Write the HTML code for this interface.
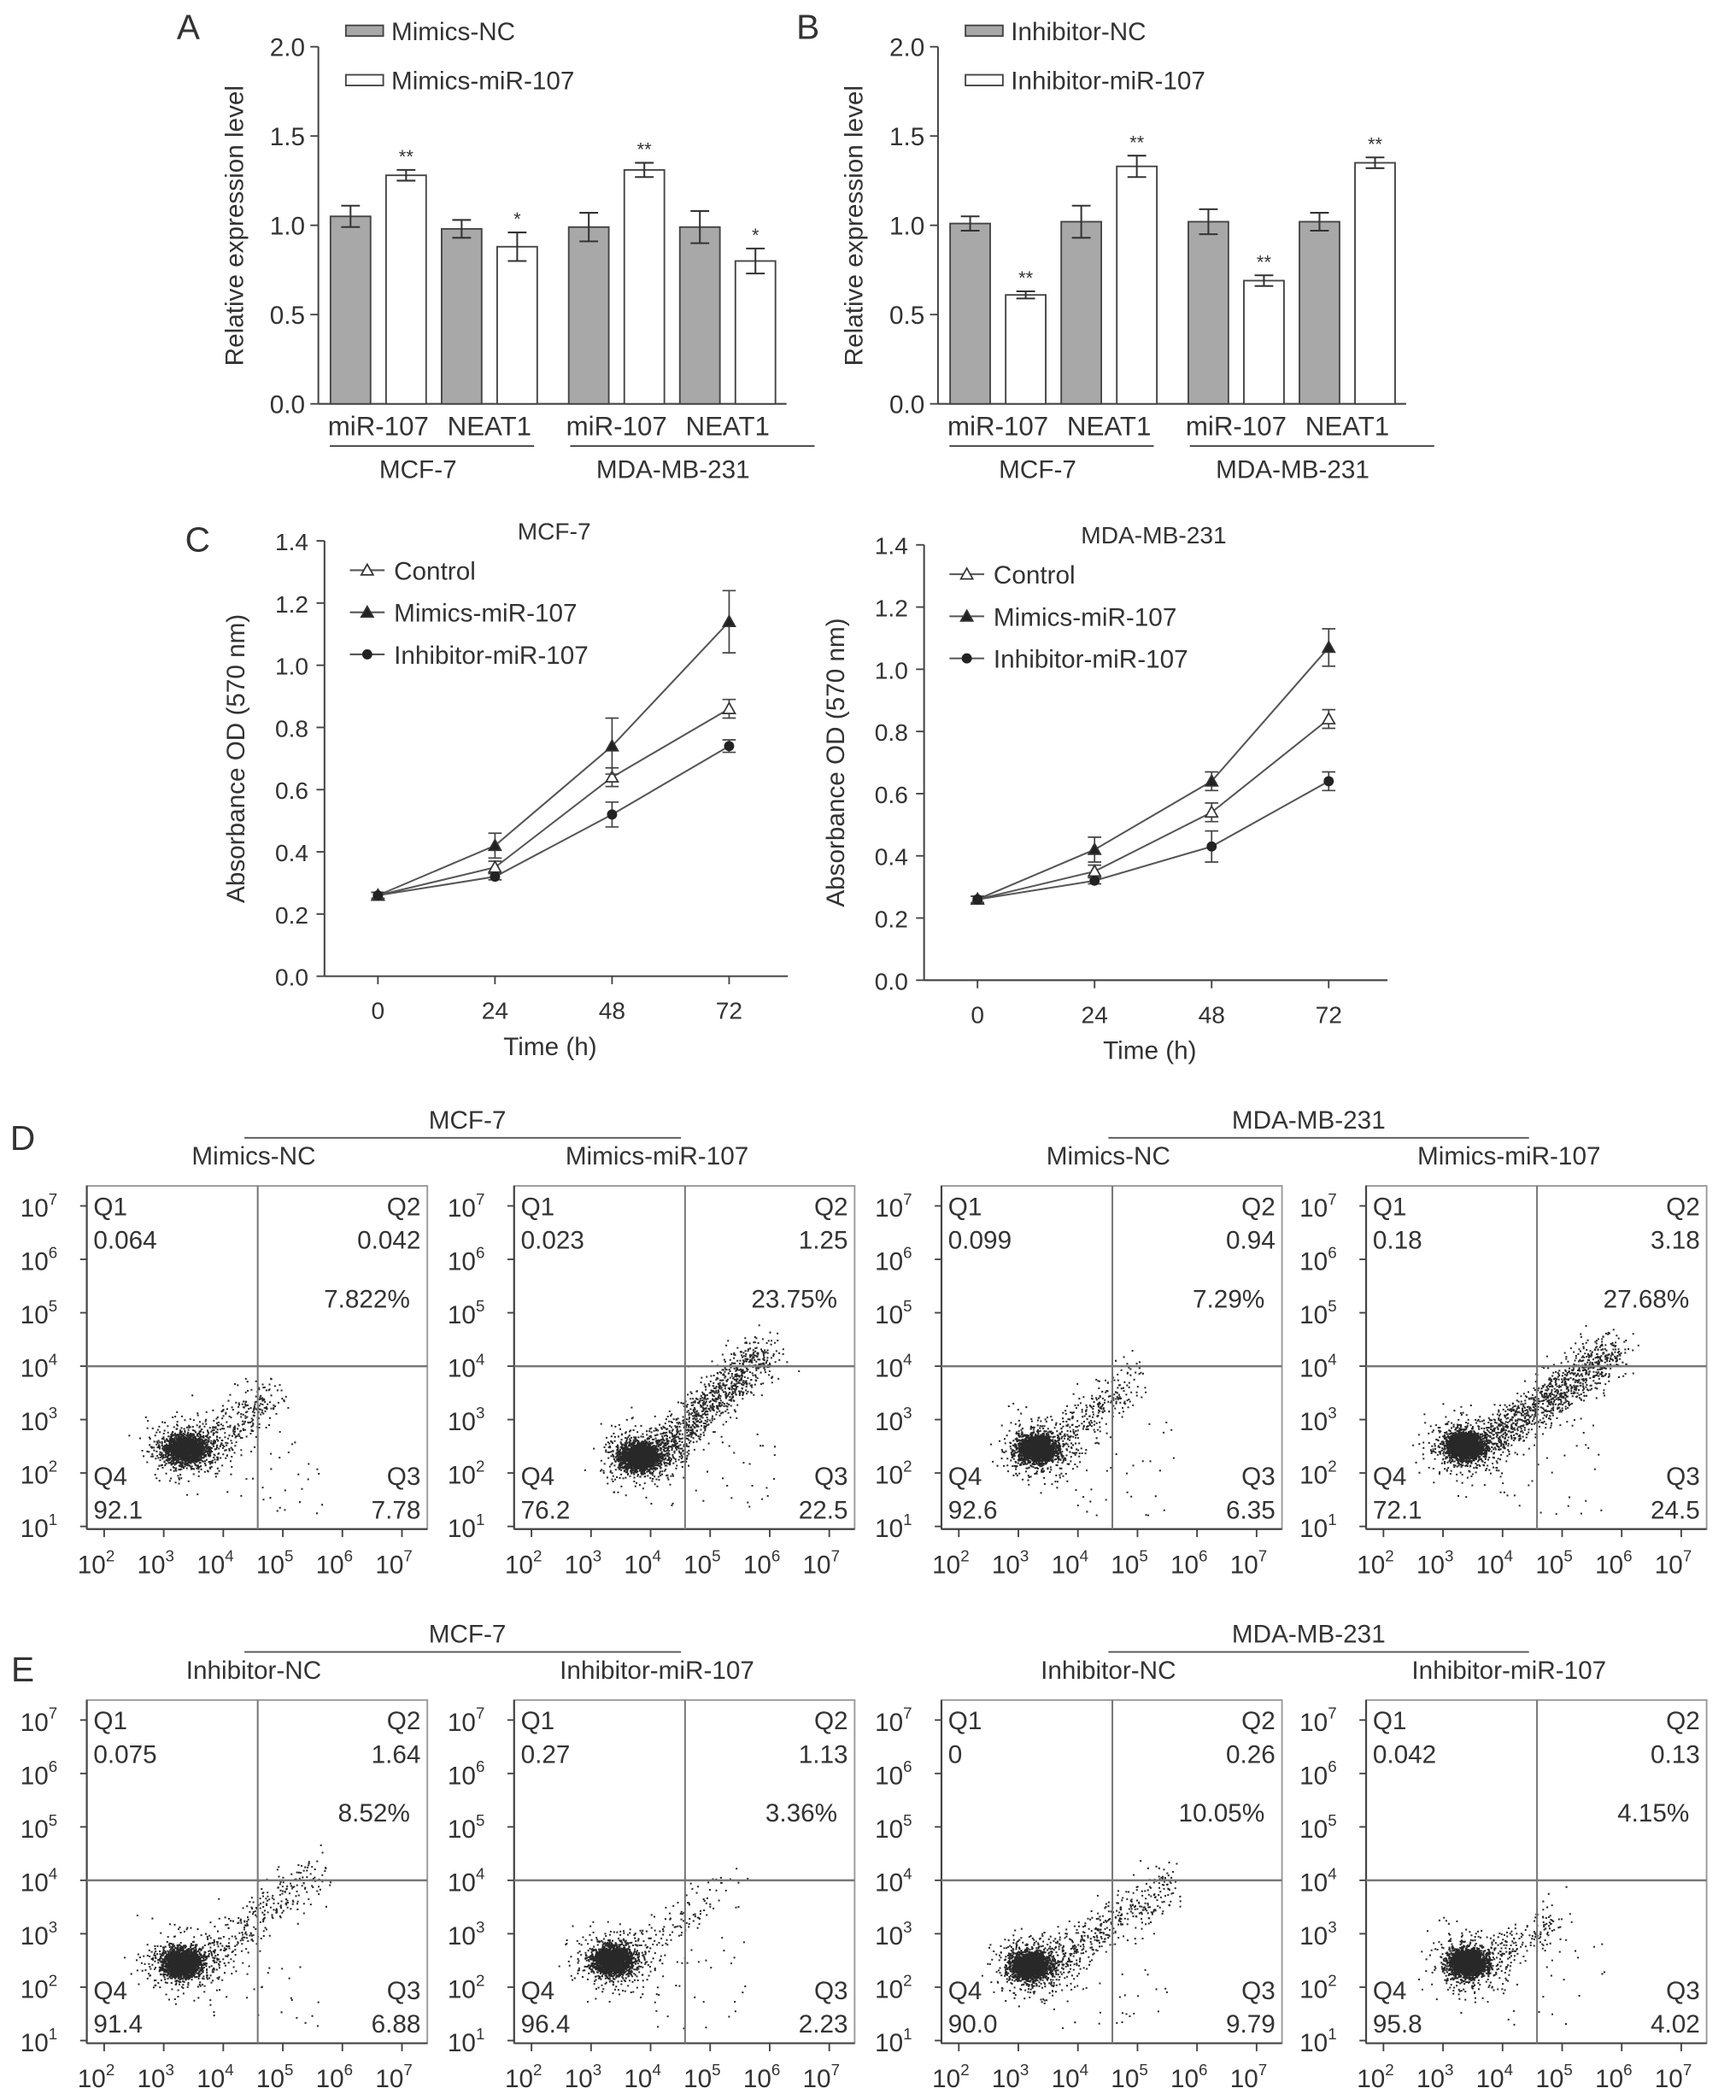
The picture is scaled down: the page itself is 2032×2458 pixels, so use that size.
<!DOCTYPE html>
<html><head><meta charset="utf-8"><style>
html,body{margin:0;padding:0;background:#fff}
svg{display:block}
text{font-family:"Liberation Sans",sans-serif;fill:#333}
</style></head><body>
<svg id="fig" xmlns="http://www.w3.org/2000/svg" width="2032" height="2458" viewBox="0 0 1300 1572.5" preserveAspectRatio="none">
<rect width="1300" height="1572.5" fill="#fff"/>
<g font-size="17">
<text x="141" y="29" font-size="26" text-anchor="middle">A</text>
<text x="605" y="29" font-size="26" text-anchor="middle">B</text>
<text x="148" y="413" font-size="26" text-anchor="middle">C</text>
<text x="17" y="861" font-size="26" text-anchor="middle">D</text>
<text x="17" y="1259" font-size="26" text-anchor="middle">E</text>
</g>
<g id="root"></g>
</svg>
<script>
// ---- Panel A / B data ----
const barCats = ['miR-107','NEAT1','miR-107','NEAT1'];
const aCtrl = [1.05,0.98,0.99,0.99];
const aCtrlErr = [0.06,0.05,0.08,0.09];
const aTreat = [1.28,0.88,1.31,0.80];
const aTreatErr = [0.03,0.08,0.04,0.07];
const aStars = ['**','*','**','*'];
const bCtrl = [1.01,1.02,1.02,1.02];
const bCtrlErr = [0.04,0.09,0.07,0.05];
const bTreat = [0.61,1.33,0.69,1.35];
const bTreatErr = [0.02,0.06,0.03,0.03];
const bStars = ['**','**','**','**'];
const barTicks = [0,0.5,1.0,1.5,2.0];
// ---- Panel C data ----
const timeCats = [0,24,48,72];
const lineTicks = [0,0.2,0.4,0.6,0.8,1.0,1.2,1.4];
const mcfCtrl = [0.26,0.35,0.64,0.86];
const mcfCtrlErr = [0.01,0.02,0.03,0.03];
const mcfMim = [0.26,0.42,0.74,1.14];
const mcfMimErr = [0.01,0.04,0.09,0.10];
const mcfInh = [0.26,0.32,0.52,0.74];
const mcfInhErr = [0.01,0.01,0.04,0.02];
const mdaCtrl = [0.26,0.35,0.54,0.84];
const mdaCtrlErr = [0.01,0.02,0.03,0.03];
const mdaMim = [0.26,0.42,0.64,1.07];
const mdaMimErr = [0.01,0.04,0.03,0.06];
const mdaInh = [0.26,0.32,0.43,0.64];
const mdaInhErr = [0.01,0.01,0.05,0.03];
// ---- Flow data (quadrant percentages) ----
const flowQ1 = ['0.064','0.023','0.099','0.18','0.075','0.27','0','0.042'];
const flowQ2 = ['0.042','1.25','0.94','3.18','1.64','1.13','0.26','0.13'];
const flowQ3 = ['7.78','22.5','6.35','24.5','6.88','2.23','9.79','4.02'];
const flowQ4 = ['92.1','76.2','92.6','72.1','91.4','96.4','90.0','95.8'];
const flowPct = ['7.822%','23.75%','7.29%','27.68%','8.52%','3.36%','10.05%','4.15%'];
const flowTitles = ['Mimics-NC','Mimics-miR-107','Mimics-NC','Mimics-miR-107','Inhibitor-NC','Inhibitor-miR-107','Inhibitor-NC','Inhibitor-miR-107'];
// cluster (log10) centres and tail strength per plot
const blobX = [3.35,3.8,3.3,3.35,3.3,3.35,3.2,3.4];
const blobY = [2.45,2.3,2.45,2.5,2.45,2.5,2.4,2.45];
const tailN = [300,1000,280,1100,300,130,420,150];
const tailEndX = [4.8,5.9,4.9,5.9,5.6,5.3,5.5,4.9];
const tailEndY = [3.5,4.3,3.8,4.3,4.2,4.0,3.9,3.3];

const NS='http://www.w3.org/2000/svg';
const root=document.getElementById('root');
function mk(tag,at,parent){const e=document.createElementNS(NS,tag);for(const k in at)e.setAttribute(k,at[k]);(parent||root).appendChild(e);return e;}
function tx(x,y,s,size,anchor,parent){const e=mk('text',{x:x,y:y,'font-size':size||17,'text-anchor':anchor||'start'},parent);e.textContent=s;return e;}

// ---------- bar panels ----------
function barPanel(dx,ctrl,cErr,treat,tErr,stars,legend1,legend2,pfx){
  const y0=302.4,y2=35;
  const ys=v=>y0-(v/2)*(y0-y2);
  const ax=238.4+dx;
  let e;
  e=mk('line',{x1:ax,y1:y2,x2:ax,y2:y0,stroke:'#444','stroke-width':1.3});
  
  e=mk('line',{x1:ax,y1:y0,x2:589+dx,y2:y0,stroke:'#444','stroke-width':1.3});
  
  barTicks.forEach(t=>{
    mk('line',{x1:ax-6,y1:ys(t),x2:ax,y2:ys(t),stroke:'#444','stroke-width':1.2});
    e=tx(ax-10,ys(t)+7,t.toFixed(1),19,'end');
    
  });
  e=tx(0,0,'Relative expression level',19,'middle');
  e.setAttribute('transform','translate('+(182+dx)+',169) rotate(-90)');
  
  const xb=i=>247.5+dx+i*41.6+(i>=4?12:0);
  const bw=30;
  for(let c=0;c<4;c++){
    [[ctrl[c],cErr[c],'#a8a8a8',2*c],[treat[c],tErr[c],'#fff',2*c+1]].forEach((b,k)=>{
      const x=xb(b[3]);
      e=mk('rect',{x:x,y:ys(b[0]),width:bw,height:y0-ys(b[0]),fill:b[2],stroke:'#444','stroke-width':1.2});
      
      const cx=x+bw/2;
      e=mk('path',{d:'M'+cx+','+ys(b[0]+b[1])+'V'+ys(b[0]-b[1])+'M'+(cx-7)+','+ys(b[0]+b[1])+'h14M'+(cx-7)+','+ys(b[0]-b[1])+'h14',stroke:'#333','stroke-width':1.3,fill:'none'});
      
      if(k===1){e=tx(cx,ys(b[0]+b[1])-5,stars[c],14,'middle');
        }
    });
    e=tx((xb(2*c)+xb(2*c+1)+bw)/2,326,barCats[c],20,'middle');
    
  }
  e=mk('line',{x1:247+dx,y1:334,x2:400+dx,y2:334,stroke:'#444','stroke-width':1.2});
  
  e=mk('line',{x1:427+dx,y1:334,x2:610+dx,y2:334,stroke:'#444','stroke-width':1.2});
  
  e=tx(313+dx,358,'MCF-7',19,'middle');
  e=tx(504+dx,358,'MDA-MB-231',19,'middle');
  e=mk('rect',{x:259+dx,y:19,width:28,height:8,fill:'#a8a8a8',stroke:'#444','stroke-width':1.2});
  
  e=tx(293+dx,30,legend1,19);
  e=mk('rect',{x:259+dx,y:56,width:28,height:8,fill:'#fff',stroke:'#444','stroke-width':1.2});
  
  e=tx(293+dx,67,legend2,19);
}
barPanel(0,aCtrl,aCtrlErr,aTreat,aTreatErr,aStars,'Mimics-NC','Mimics-miR-107','panel-a');
barPanel(464,bCtrl,bCtrlErr,bTreat,bTreatErr,bStars,'Inhibitor-NC','Inhibitor-miR-107','panel-b');

// ---------- line panels ----------
function marker(type,x,y,pfx){
  let e;
  if(type==='circle') e=mk('circle',{cx:x,cy:y,r:3.8,fill:'#222'});
  else e=mk('path',{d:'M'+x+','+(y-4.5)+'L'+(x+4.5)+','+(y+3.5)+'L'+(x-4.5)+','+(y+3.5)+'Z',fill:type==='open'?'#fff':'#222',stroke:'#333','stroke-width':1.1});
  
}
function linePanel(dx,dy,title,series,pfx){
  const y0=731+dy,y1=405+dy,ax=243+dx;
  const ys=v=>y0-(v/1.4)*(y0-y1);
  const xs=t=>283+dx+t/72*263;
  let e;
  e=mk('line',{x1:ax,y1:y1,x2:ax,y2:y0,stroke:'#444','stroke-width':1.3});
  e=mk('line',{x1:ax,y1:y0,x2:590+dx,y2:y0,stroke:'#444','stroke-width':1.3});
  lineTicks.forEach(t=>{mk('line',{x1:ax-6,y1:ys(t),x2:ax,y2:ys(t),stroke:'#444','stroke-width':1.2});
    e=tx(ax-12,ys(t)+7,t.toFixed(1),18,'end');});
  timeCats.forEach(t=>{mk('line',{x1:xs(t),y1:y0,x2:xs(t),y2:y0+6,stroke:'#444','stroke-width':1.2});
    e=tx(xs(t),y0+32,String(t),18,'middle');});
  e=tx(412+dx,y0+59,'Time (h)',19,'middle');
  e=tx(0,0,'Absorbance OD (570 nm)',19,'middle');e.setAttribute('transform','translate('+(183+dx)+','+(568+dy)+') rotate(-90)');
  
  e=tx(415+dx,404+dy,title,18,'middle');
  series.forEach((s,k)=>{
    const [vals,errs,type,label]=s;
    e=mk('polyline',{points:vals.map((v,i)=>xs(timeCats[i])+','+ys(v)).join(' '),fill:'none',stroke:'#555','stroke-width':1.3});
    
    vals.forEach((v,i)=>{const x=xs(timeCats[i]);
      e=mk('path',{d:'M'+x+','+ys(v+errs[i])+'V'+ys(v-errs[i])+'M'+(x-5)+','+ys(v+errs[i])+'h10M'+(x-5)+','+ys(v-errs[i])+'h10',stroke:'#444','stroke-width':1.1,fill:'none'});
      
      marker(type,x,ys(v),pfx);});
    const ly=427+dy+k*31.5;
    e=mk('line',{x1:262+dx,y1:ly,x2:288+dx,y2:ly,stroke:'#555','stroke-width':1.3});
    marker(type,275+dx,ly,pfx);
    e=tx(295+dx,ly+7,label,19);
  });
}
linePanel(0,0,'MCF-7',[[mcfCtrl,mcfCtrlErr,'open','Control'],[mcfMim,mcfMimErr,'tri','Mimics-miR-107'],[mcfInh,mcfInhErr,'circle','Inhibitor-miR-107']],'panel-c-mcf7');
linePanel(449,3,'MDA-MB-231',[[mdaCtrl,mdaCtrlErr,'open','Control'],[mdaMim,mdaMimErr,'tri','Mimics-miR-107'],[mdaInh,mdaInhErr,'circle','Inhibitor-miR-107']],'panel-c-mda');

// ---------- flow panels ----------
let seed=12345;
function rnd(){seed=(seed*1103515245+12345)%2147483648;return seed/2147483648;}
function gauss(){let u=rnd()||1e-6,v=rnd();return Math.sqrt(-2*Math.log(u))*Math.cos(2*Math.PI*v);}
const boxX=[65,385,705,1023];
function flowPlot(idx,bx,by){
  const pfx='flow-plot-'+(idx+1);
  const w=255,h=257;
  const xs=l=>bx+13+(l-2)*44.6;
  const ys=l=>by+255-(l-1)*40;
  let e;
  const g=mk('g',{});
  
  let d='';
  const pt=(lx,ly)=>{const x=xs(lx),y=ys(ly);if(x>bx+1&&x<bx+w-1&&y>by+1&&y<by+h-1)d+='M'+x.toFixed(1)+','+y.toFixed(1)+'h1.3';};
  for(let i=0;i<2200;i++){pt(blobX[idx]+gauss()*0.15,blobY[idx]+gauss()*0.12);}
  for(let i=0;i<400;i++){pt(blobX[idx]+gauss()*0.32,blobY[idx]+gauss()*0.28);}
  for(let i=0;i<tailN[idx];i++){const t=rnd();pt(blobX[idx]+0.3+t*(tailEndX[idx]-blobX[idx]-0.3)+gauss()*0.18,blobY[idx]+t*(tailEndY[idx]-blobY[idx])+gauss()*0.2);}
  for(let i=0;i<35;i++){pt(blobX[idx]+0.5+rnd()*1.8,1.2+rnd()*1.8);}
  mk('path',{d:d,stroke:'#111','stroke-width':1.3,fill:'none','stroke-opacity':0.9},g);
  e=mk('rect',{x:bx,y:by,width:w,height:h,fill:'none',stroke:'#999','stroke-width':1.2});
  mk('line',{x1:bx,y1:by,x2:bx,y2:by+h,stroke:'#444','stroke-width':1.4});
  mk('line',{x1:bx,y1:by+h,x2:bx+w,y2:by+h,stroke:'#444','stroke-width':1.4});
  e=mk('line',{x1:bx+128,y1:by,x2:bx+128,y2:by+h,stroke:'#777','stroke-width':1.3});
  e=mk('line',{x1:bx,y1:by+135,x2:bx+w,y2:by+135,stroke:'#777','stroke-width':1.6});
  for(let l=1;l<=7;l++){
    mk('line',{x1:bx-5,y1:ys(l),x2:bx,y2:ys(l),stroke:'#444','stroke-width':1.2});
    e=mk('text',{x:bx-22,y:ys(l)+8,'font-size':19,'text-anchor':'end'});e.textContent='10';
    const s=mk('tspan',{dy:-9,'font-size':12},e);s.textContent=String(l);
    
  }
  for(let l=2;l<=7;l++){
    const x=xs(l);
    mk('line',{x1:x,y1:by+h,x2:x,y2:by+h+6,stroke:'#444','stroke-width':1.2});
    e=mk('text',{x:x-6,y:by+h+33,'font-size':19,'text-anchor':'middle'});e.textContent='10';
    const s=mk('tspan',{dy:-9,'font-size':12},e);s.textContent=String(l);
    
  }
  const L=bx+5,R=bx+w-5;
  [[L,22,'Q1','start','q1-label'],[L,47,flowQ1[idx],'start','q1-value'],[R,22,'Q2','end','q2-label'],[R,47,flowQ2[idx],'end','q2-value'],
   [R-8,91,flowPct[idx],'end','apoptosis-percent'],[L,224,'Q4','start','q4-label'],[L,249,flowQ4[idx],'start','q4-value'],[R,224,'Q3','end','q3-label'],[R,249,flowQ3[idx],'end','q3-value']]
  .forEach(q=>{e=tx(q[0],by+q[1],q[2],19,q[3]);});
  e=tx(bx+(idx%2===0?125:107),by-16,flowTitles[idx],19,'middle');
  
}
[[888,0],[1273,4]].forEach(([by,o],row)=>{
  boxX.forEach((bx,j)=>flowPlot(o+j,bx,by));
  const hy=by-36;
  let e;
  e=tx(350,hy-7,'MCF-7',19,'middle');
  e=mk('line',{x1:183,y1:hy,x2:510,y2:hy,stroke:'#555','stroke-width':1.2});
  e=tx(980,hy-7,'MDA-MB-231',19,'middle');
  e=mk('line',{x1:830,y1:hy,x2:1145,y2:hy,stroke:'#555','stroke-width':1.2});
});
</script>
</body></html>
